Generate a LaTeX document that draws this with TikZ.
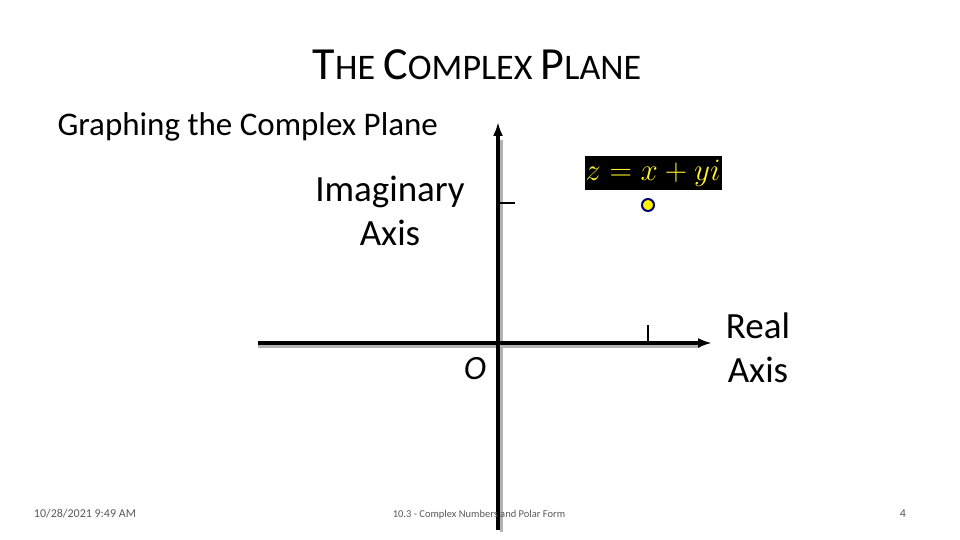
\documentclass[tikz,border=0pt]{standalone}
\usepackage{fontspec}
\setmainfont{Carlito}
\usepackage{graphicx}
\usetikzlibrary{arrows.meta}
\begin{document}
\begin{tikzpicture}[x=1pt,y=-1pt,
  axis/.style={line width=4pt,-{Latex[length=14pt,width=10pt]}},
  shadow/.style={line width=3pt,gray!60},
  lbl/.style={font=\fontsize{37}{44}\selectfont,align=center},
  foot/.style={font=\fontsize{12}{14}\selectfont,text=gray!70!black}]
\useasboundingbox (0,0) rectangle (960,540);
\node (title) at (477,65) {\fontsize{46}{52}\selectfont T\fontsize{36}{40}\selectfont HE \fontsize{46}{52}\selectfont C\fontsize{36}{40}\selectfont OMPLEX \fontsize{46}{52}\selectfont P\fontsize{36}{40}\selectfont LANE};
\node[anchor=west,font=\fontsize{33}{38}\selectfont] (sub) at (54,127) {Graphing the Complex Plane};
% shadows
\draw[shadow] (501,140) -- (501,532);
\draw[shadow] (258,346) -- (700,346);
\coordinate (vb) at (498,530); \coordinate (vt) at (498,122);
\coordinate (hl) at (258,343); \coordinate (hr) at (712,343);
\draw[axis] (vb) -- (vt);
\draw[axis] (hl) -- (hr);
\coordinate (t1a) at (498,203); \coordinate (t1b) at (515,203);
\draw[line width=2.5pt] (t1a) -- (t1b);
\coordinate (t2a) at (648,325); \coordinate (t2b) at (648,343);
\draw[line width=2.5pt] (t2a) -- (t2b);
\node[fill=black,text=yellow!85!white,inner sep=0pt,minimum width=137pt,minimum height=34pt] (eq) at (653,173) {\scalebox{1.25}{\fontsize{24}{28}\selectfont$z=x+yi$}};
\node[circle,fill=yellow,draw=blue!45!black,line width=2pt,minimum size=12pt,inner sep=0pt] (pt) at (648,205) {};
\node[lbl] (imag) at (390,211) {Imaginary\\Axis};
\node[lbl] (real) at (758,348) {Real\\Axis};
\node[font=\fontsize{34}{40}\selectfont\itshape] (o) at (475,369) {O};
\node[foot] (date) at (85,514) {10/28/2021 9:49 AM};
\node[foot] (mid) at (479,515) {\fontsize{10.5}{12}\selectfont 10.3 - Complex Numbers and Polar Form};
\node[foot] (num) at (903,514) {4};
\end{tikzpicture}
\end{document}
